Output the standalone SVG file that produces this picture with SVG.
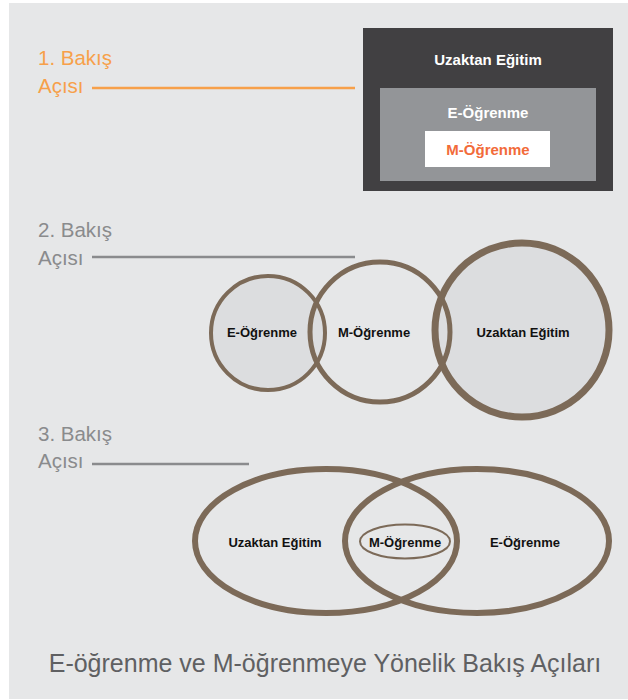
<svg xmlns="http://www.w3.org/2000/svg" width="628" height="700" viewBox="0 0 628 700">
<style>
.h{font-family:"Liberation Sans",Arial,sans-serif;font-size:20.5px}
.lbl{font-family:"Liberation Sans",Arial,sans-serif;font-size:13px;font-weight:bold;fill:#111;text-anchor:middle}
.bx{font-family:"Liberation Sans",Arial,sans-serif;font-size:15px;font-weight:bold;text-anchor:middle}
.ring{stroke:#7c6a58;fill:none}
</style>
<rect x="0" y="0" width="628" height="700" fill="#ffffff"/>
<rect x="9" y="3" width="619" height="696" fill="#e6e7e8"/>
<g id="view1-label">
<text class="h" x="38" y="65" fill="#f7a04a">1. Bakış</text>
<text class="h" x="38" y="93" fill="#f7a04a">Açısı</text>
</g>
<g id="view2-label">
<text class="h" x="38" y="237" fill="#8a8b8d">2. Bakış</text>
<text class="h" x="38" y="265" fill="#8a8b8d">Açısı</text>
</g>
<g id="view3-label">
<text class="h" x="38" y="441" fill="#8a8b8d">3. Bakış</text>
<text class="h" x="38" y="468" fill="#8a8b8d">Açısı</text>
</g>
<g id="connectors">
<line x1="92" y1="88" x2="355" y2="88" stroke="#f7a04a" stroke-width="2.5"/>
<line x1="92" y1="257" x2="355" y2="257" stroke="#8a8b8d" stroke-width="2.5"/>
<line x1="92" y1="464" x2="249" y2="464" stroke="#8a8b8d" stroke-width="2.5"/>
</g>
<g id="uzaktan-box">
<rect x="363" y="28" width="250" height="163" fill="#414042"/>
<text class="bx" x="488" y="65" fill="#ffffff">Uzaktan Eğitim</text>
</g>
<g id="e-box">
<rect x="380" y="88" width="216" height="93" fill="#939598"/>
<text class="bx" x="488" y="118" fill="#ffffff">E-Öğrenme</text>
</g>
<g id="m-box">
<rect x="425" y="131" width="125" height="36" fill="#ffffff"/>
<text class="bx" x="488" y="155" fill="#f26b3a">M-Öğrenme</text>
</g>
<g id="v2-fills">
<circle cx="268" cy="333" r="57" fill="#dcdddf"/>
<circle cx="522" cy="330" r="87" fill="#dcdddf"/>
</g>
<g id="v2-e">
<circle cx="268" cy="333" r="57" class="ring" stroke-width="4"/>
<text class="lbl" x="262" y="337">E-Öğrenme</text>
</g>
<g id="v2-m">
<circle cx="380" cy="332" r="70" class="ring" stroke-width="5"/>
<text class="lbl" x="374" y="337">M-Öğrenme</text>
</g>
<g id="v2-u">
<circle cx="522" cy="330" r="87" class="ring" stroke-width="7"/>
<text class="lbl" x="523" y="337">Uzaktan Eğitim</text>
</g>
<g id="v3-u">
<ellipse cx="326" cy="541" rx="131" ry="72" class="ring" stroke-width="6"/>
<text class="lbl" x="275" y="547">Uzaktan Eğitim</text>
</g>
<g id="v3-e">
<ellipse cx="477" cy="541" rx="132" ry="72" class="ring" stroke-width="6"/>
<text class="lbl" x="525" y="547">E-Öğrenme</text>
</g>
<g id="v3-m">
<ellipse cx="405" cy="541.5" rx="45" ry="17" class="ring" stroke-width="2"/>
<text class="lbl" x="405" y="547">M-Öğrenme</text>
</g>
<text x="325" y="672" font-family="Liberation Sans, Arial, sans-serif" font-size="25" fill="#5f6062" text-anchor="middle">E-öğrenme ve M-öğrenmeye Yönelik Bakış Açıları</text>
</svg>
